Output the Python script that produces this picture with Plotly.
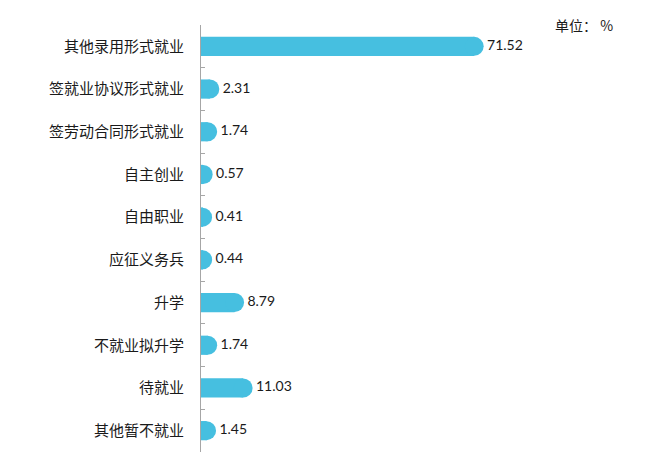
import plotly.graph_objects as go

# employment destination shares (%)
categories = ["其他录用形式就业", "签就业协议形式就业", "签劳动合同形式就业", "自主创业",
              "自由职业", "应征义务兵", "升学", "不就业拟升学", "待就业", "其他暂不就业"]
values = [71.52, 2.31, 1.74, 0.57, 0.41, 0.44, 8.79, 1.74, 11.03, 1.45]
labels = ["%.2f" % v for v in values]

bar_color = "#46BFE0"

fig = go.Figure()

# flat part of each bar
fig.add_trace(go.Bar(
    x=values, y=categories, orientation="h",
    marker=dict(color=bar_color, line=dict(width=0)),
    width=0.45, hoverinfo="skip",
))

# round cap at the bar end, value label next to it
fig.add_trace(go.Scatter(
    x=values, y=categories, mode="markers+text",
    marker=dict(color=bar_color, size=19, line=dict(width=0)),
    text=labels, textposition="middle right",
    textfont=dict(family="Lato, Open Sans, sans-serif", size=14, color="#1a1a1a"),
    cliponaxis=True, hoverinfo="skip",
))

# page body has an 8px margin, so the figure is a bit smaller than the window
fig.update_layout(
    width=650, height=452,
    margin=dict(l=193, r=38, t=17, b=8),
    plot_bgcolor="white", paper_bgcolor="white",
    showlegend=False,
    font=dict(family="Noto Sans CJK SC", color="#1a1a1a"),
)

fig.update_xaxes(range=[0, 109.7], visible=False)
fig.update_yaxes(
    range=[len(categories) - 0.5, -0.5], showline=True, linecolor="#A6A6A6", linewidth=1,
    ticks="inside", ticklen=4, tickcolor="#A6A6A6", tickson="boundaries",
    ticklabelstandoff=13, tickfont=dict(family="Noto Sans CJK SC", size=15),
    showgrid=False, zeroline=False, automargin=False,
)

fig.add_annotation(
    text="单位： %", xref="paper", yref="paper", x=1.0, y=1.0,
    xanchor="right", yanchor="middle", xshift=-5, showarrow=False,
    font=dict(family="Noto Sans CJK SC", size=14, color="#1a1a1a"),
)

fig.write_html("out.html")
